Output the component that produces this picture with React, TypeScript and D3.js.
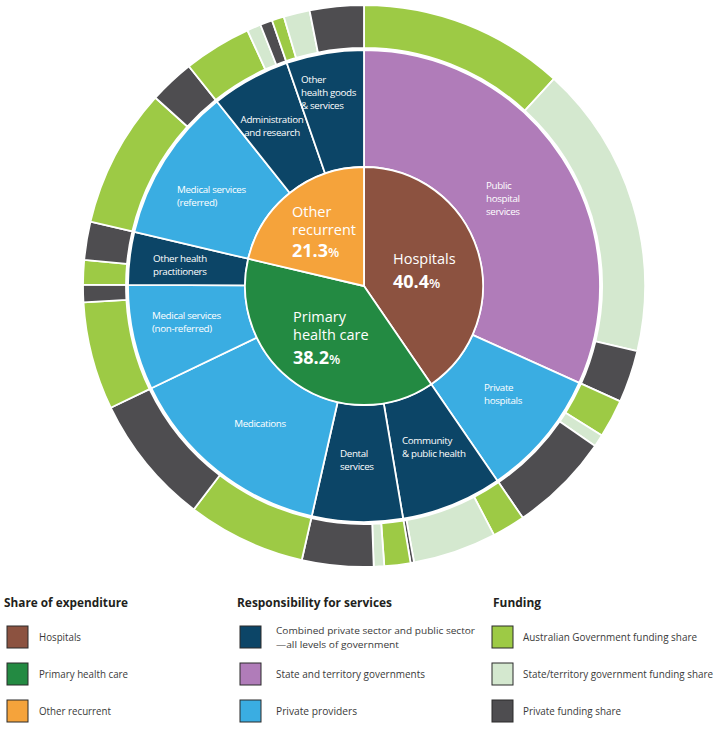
import React from 'react'
import * as d3 from 'd3'

// share of expenditure (inner ring)
const groups = ['Hospitals', 'Primary health care', 'Other recurrent']
const groupShares = [40.4, 38.2, 21.3]
const groupColors = ['#8c5240', '#238a42', '#f5a33b']

// areas of expenditure (middle ring)
const services = [
  'Public hospital services',
  'Private hospitals',
  'Community & public health',
  'Dental services',
  'Medications',
  'Medical services (non-referred)',
  'Other health practitioners',
  'Medical services (referred)',
  'Administration and research',
  'Other health goods & services',
]
const serviceShares = [31.7, 8.7, 6.9, 6.2, 14.3, 7.2, 3.6, 10.6, 5.4, 5.3]
// 0 combined, 1 state/territory, 2 private providers
const serviceResponsibility = [1, 2, 0, 0, 2, 2, 0, 2, 0, 0]
const responsibilities = [
  'Combined private sector and public sector—all levels of government',
  'State and territory governments',
  'Private providers',
]
const responsibilityColors = ['#0c4567', '#b07cb9', '#3aade2']

// funding (outer ring), per service
const fundingSources = [
  'Australian Government funding share',
  'State/territory government funding share',
  'Private funding share',
]
const fundingColors = ['#9dca45', '#d4e8cf', '#4e4d50']
const ausGovFunding = [11.8, 2.2, 1.9, 1.5, 6.8, 6.2, 1.4, 8.0, 3.9, 0.7]
const stateFunding = [16.9, 0.7, 4.8, 0.6, 0, 0, 0, 0, 0.8, 1.5]
const privateFunding = [3.0, 5.8, 0.2, 4.1, 7.5, 1.0, 2.2, 2.6, 0.7, 3.1]

const cx = 364
const cy = 286
const font = '"Open Sans", "Noto Sans", sans-serif'

// label layout for the middle ring
const serviceLabels = [
  { lines: ['Public', 'hospital', 'services'], x: 486, y: 189, anchor: 'start' },
  { lines: ['Private', 'hospitals'], x: 484, y: 391, anchor: 'start' },
  { lines: ['Community', '& public health'], x: 402, y: 444, anchor: 'start' },
  { lines: ['Dental', 'services'], x: 340, y: 457, anchor: 'start' },
  { lines: ['Medications'], x: 260, y: 427, anchor: 'middle' },
  { lines: ['Medical services', '(non-referred)'], x: 152, y: 319, anchor: 'start' },
  { lines: ['Other health', 'practitioners'], x: 153, y: 262, anchor: 'start' },
  { lines: ['Medical services', '(referred)'], x: 177, y: 193, anchor: 'start' },
  { lines: ['Administration', 'and research'], x: 272, y: 123, anchor: 'middle' },
  { lines: ['Other', 'health goods', '& services'], x: 301, y: 83, anchor: 'start' },
]

const groupLabels = [
  { lines: ['Hospitals'], x: 393, y: 264, pctY: 288 },
  { lines: ['Primary', 'health care'], x: 293, y: 322, pctY: 364 },
  { lines: ['Other', 'recurrent'], x: 292, y: 217, pctY: 257 },
]

// legend text is condensed in the original
const squeeze = 0.85
const legendTextWidth: Record<string, number> = {
  'Share of expenditure': 124,
  'Responsibility for services': 155,
  Funding: 48,
  Hospitals: 42,
  'Primary health care': 89,
  'Other recurrent': 72,
  'Combined private sector and public sector': 199,
  '—all levels of government': 123,
  'State and territory governments': 149,
  'Private providers': 81,
  'Australian Government funding share': 174,
  'State/territory government funding share': 190,
  'Private funding share': 98,
}

const spans = (values: number[]) => {
  const ends = d3.cumsum(values)
  return values.map((v, i) => ({ start: ends[i] - v, end: ends[i], value: v }))
}

const LegendText = ({ x, y, lines, size, weight, fill, lineHeight = 13.5 }) => (
  <text transform={`translate(${x},${y}) scale(${squeeze},1)`} fontSize={size} fontWeight={weight} fill={fill}>
    {lines.map((line, i) => (
      <tspan
        key={i}
        x={0}
        dy={i === 0 ? 0 : lineHeight}
        textLength={legendTextWidth[line] / squeeze}
        lengthAdjust='spacingAndGlyphs'
      >
        {line}
      </tspan>
    ))}
  </text>
)

const App = () => {
  const angle = d3
    .scaleLinear()
    .domain([0, d3.sum(groupShares)])
    .range([0, 2 * Math.PI])
  const arc = d3.arc()

  const ring = (s: { start: number; end: number }, r0: number, r1: number) =>
    arc({ innerRadius: r0, outerRadius: r1, startAngle: angle(s.start), endAngle: angle(s.end) }) as string

  const inner = spans(groupShares)
  const middle = spans(serviceShares)
  const fundingFlat = services.flatMap((_, i) => [ausGovFunding[i], stateFunding[i], privateFunding[i]])
  const outer = spans(fundingFlat)

  const legendCols = [
    {
      title: 'Share of expenditure',
      tx: 4,
      sx: 7,
      lx: 39,
      items: groups.map((g, i) => ({ lines: [g], color: groupColors[i] })),
    },
    {
      title: 'Responsibility for services',
      tx: 237,
      sx: 240,
      lx: 276,
      items: responsibilities.map((r, i) => ({
        lines: r.split(/(?=—)/),
        color: responsibilityColors[i],
      })),
    },
    {
      title: 'Funding',
      tx: 493,
      sx: 492,
      lx: 523,
      items: fundingSources.map((f, i) => ({ lines: [f], color: fundingColors[i] })),
    },
  ]
  const rowY = [637, 674, 711]

  return (
    <svg
      width={722}
      height={731}
      style={{ position: 'absolute', left: 0, top: 0, background: '#fff' }}
      fontFamily={font}
    >
      <g transform={`translate(${cx},${cy})`} stroke='#fff' strokeWidth={1.8} strokeLinejoin='round'>
        {outer.map((s, i) =>
          s.value > 0 ? <path key={'o' + i} d={ring(s, 238, 281)} fill={fundingColors[i % 3]} /> : null
        )}
        {middle.map((s, i) => (
          <path key={'m' + i} d={ring(s, 119, 236)} fill={responsibilityColors[serviceResponsibility[i]]} />
        ))}
        {inner.map((s, i) => (
          <path key={'i' + i} d={ring(s, 0, 119)} fill={groupColors[i]} />
        ))}
      </g>

      <g fill='#fff' fontSize={9.8} letterSpacing={-0.35}>
        {serviceLabels.map((l, i) => (
          <text key={i} x={l.x} y={l.y} textAnchor={l.anchor}>
            {l.lines.map((line, j) => (
              <tspan key={j} x={l.x} dy={j === 0 ? 0 : 13}>
                {line}
              </tspan>
            ))}
          </text>
        ))}
      </g>

      <g fill='#fff'>
        {groupLabels.map((l, i) => (
          <g key={i}>
            {l.lines.map((line, j) => (
              <text key={j} x={l.x} y={l.y + j * 18} fontSize={14.5}>
                {line}
              </text>
            ))}
            <text x={l.x} y={l.pctY} fontSize={18} fontWeight={700}>
              {groupShares[i].toFixed(1)}
              <tspan fontSize={13} fontWeight={600}>
                %
              </tspan>
            </text>
          </g>
        ))}
      </g>

      <g>
        {legendCols.map((c, ci) => (
          <g key={ci}>
            <LegendText x={c.tx} y={607} lines={[c.title]} size={12.5} weight={700} fill='#231f20' />
            {c.items.map((it, ii) => (
              <g key={ii}>
                <rect
                  x={c.sx}
                  y={rowY[ii] - 11}
                  width={21}
                  height={22}
                  fill={it.color}
                  stroke='#2b2b2b'
                  strokeWidth={1}
                />
                <LegendText
                  x={c.lx}
                  y={rowY[ii] + 4 - ((it.lines.length - 1) * 13.5) / 2}
                  lines={it.lines}
                  size={it.lines.length > 1 ? 9.8 : 10.8}
                  weight={400}
                  fill='#3a3a3a'
                />
              </g>
            ))}
          </g>
        ))}
      </g>
    </svg>
  )
}

export default App
